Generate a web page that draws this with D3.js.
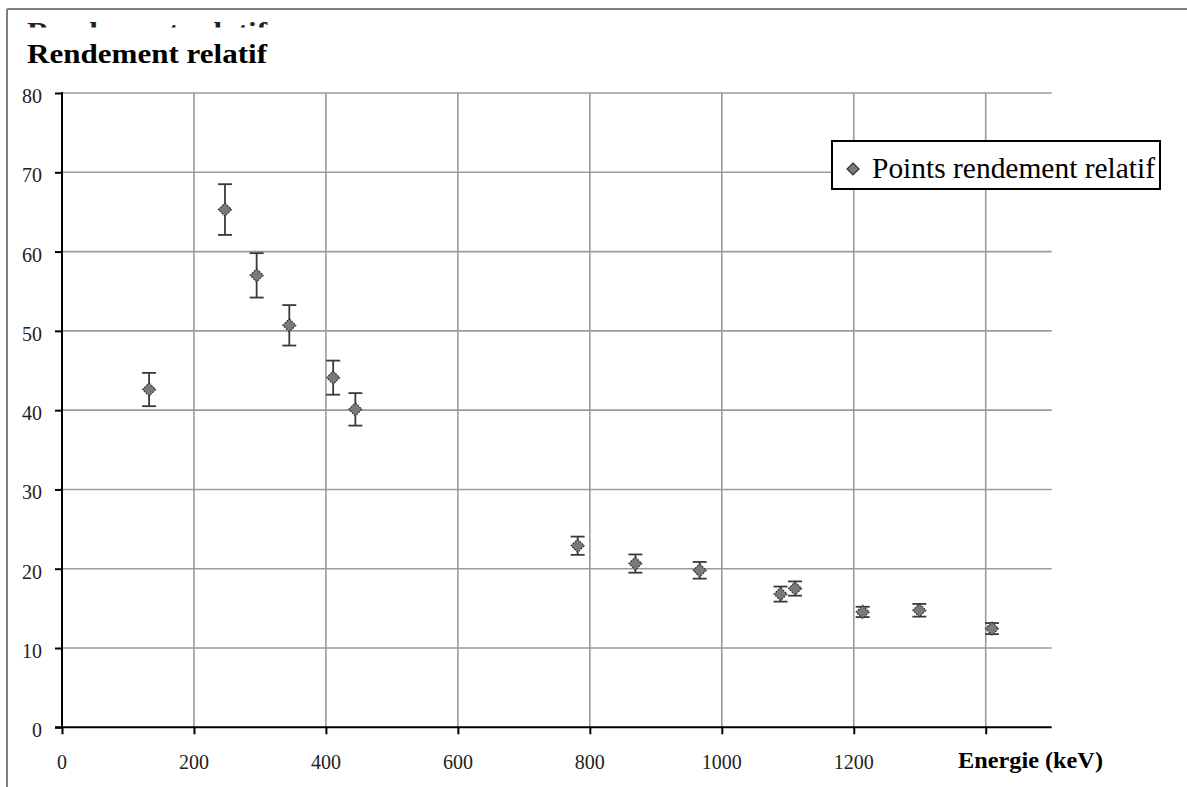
<!DOCTYPE html>
<html>
<head>
<meta charset="utf-8">
<script src="https://cdn.jsdelivr.net/npm/d3@7/dist/d3.min.js"></script>
<style>
  html, body { margin: 0; padding: 0; background: #fff; }
  svg { display: block; }
</style>
</head>
<body>
<svg id="chart" width="1187" height="787"></svg>
<script>
// ---- data ----
const energies = [132, 247, 295, 344.5, 411, 444.6, 781.5, 869, 966.5, 1089, 1111, 1213.5, 1299.4, 1409.5];
const values   = [42.6, 65.3, 57.0, 50.7, 44.1, 40.1, 22.9, 20.65, 19.8, 16.8, 17.5, 14.55, 14.76, 12.45];
const errors   = [2.1, 3.2, 2.8, 2.55, 2.15, 2.05, 1.15, 1.15, 1.05, 0.95, 0.9, 0.65, 0.8, 0.7];
const xTicks = [0, 200, 400, 600, 800, 1000, 1200, 1400];
const xTickLabels = ["0", "200", "400", "600", "800", "1000", "1200", ""];
const yTicks = [0, 10, 20, 30, 40, 50, 60, 70, 80];
const yTickLabels = ["0", "10", "20", "30", "40", "50", "60", "70", "80"];
const titleText = "Rendement relatif";
const xAxisTitle = "Energie (keV)";
const legendLabel = "Points rendement relatif";

const svg = d3.select("#chart");
const x = d3.scaleLinear().domain([0, 1500]).range([62, 1051.7]);
const y = d3.scaleLinear().domain([0, 80]).range([727.3, 93]);

// outer frame (top & left)
svg.append("line").attr("x1", 7).attr("x2", 1187).attr("y1", 9).attr("y2", 9)
  .attr("stroke", "#808080").attr("stroke-width", 2);
svg.append("line").attr("x1", 7).attr("x2", 7).attr("y1", 9).attr("y2", 787)
  .attr("stroke", "#808080").attr("stroke-width", 2);

// clipped ghost of the title at the top (only the tops of tall letters show)
svg.append("clipPath").attr("id", "ghostClip")
  .append("rect").attr("x", 10).attr("y", 22).attr("width", 400).attr("height", 5.5);
svg.append("text").attr("clip-path", "url(#ghostClip)")
  .attr("x", 27).attr("y", 41)
  .attr("font-family", "Liberation Serif, serif").attr("font-weight", "bold")
  .attr("font-size", 27).attr("textLength", 240).attr("lengthAdjust", "spacingAndGlyphs")
  .attr("fill", "#222").text(titleText);

// title
svg.append("text")
  .attr("x", 27).attr("y", 63)
  .attr("font-family", "Liberation Serif, serif").attr("font-weight", "bold")
  .attr("font-size", 27).attr("textLength", 240).attr("lengthAdjust", "spacingAndGlyphs")
  .attr("fill", "#000").text(titleText);

// gridlines
const grid = svg.append("g");
grid.selectAll(".hg").data(yTicks.filter(d => d > 0)).enter().append("line")
  .attr("x1", x(0)).attr("x2", x(1500))
  .attr("y1", d => y(d)).attr("y2", d => y(d))
  .attr("stroke", "#9a9a9a").attr("stroke-width", 1.6);
grid.selectAll(".vg").data(xTicks.filter(d => d > 0)).enter().append("line")
  .attr("x1", d => x(d)).attr("x2", d => x(d))
  .attr("y1", y(0)).attr("y2", y(80))
  .attr("stroke", "#9a9a9a").attr("stroke-width", 1.6);

// axes
const yAxis = d3.axisLeft(y).tickValues(yTicks).tickSize(7).tickPadding(0).tickFormat(() => "");
const xAxis = d3.axisBottom(x).tickValues(xTicks).tickSize(7).tickPadding(0).tickFormat(() => "");
const gy = svg.append("g").attr("transform", `translate(${x(0)},0)`).call(yAxis);
const gx = svg.append("g").attr("transform", `translate(0,${y(0)})`).call(xAxis);
gy.select(".domain").remove();
gx.select(".domain").remove();
[gy, gx].forEach(g => g.selectAll("line").attr("stroke", "#000").attr("stroke-width", 2));
svg.append("line").attr("x1", x(0)).attr("x2", x(0)).attr("y1", y(80) - 1).attr("y2", y(0) + 1)
  .attr("stroke", "#000").attr("stroke-width", 2);
svg.append("line").attr("x1", x(0) - 7).attr("x2", x(1500)).attr("y1", y(0)).attr("y2", y(0))
  .attr("stroke", "#000").attr("stroke-width", 2);

// tick labels
svg.append("g").selectAll("text").data(yTicks).enter().append("text")
  .attr("x", 42).attr("y", d => y(d) + 10)
  .attr("text-anchor", "end")
  .attr("font-family", "Liberation Serif, serif").attr("font-size", 20)
  .attr("fill", "#222").text((d, i) => yTickLabels[i]);
svg.append("g").selectAll("text").data(xTicks).enter().append("text")
  .attr("x", d => x(d)).attr("y", 769)
  .attr("text-anchor", "middle")
  .attr("font-family", "Liberation Serif, serif").attr("font-size", 20)
  .attr("fill", "#222").text((d, i) => xTickLabels[i]);

// x axis title
svg.append("text")
  .attr("x", 958).attr("y", 768)
  .attr("font-family", "Liberation Serif, serif").attr("font-weight", "bold")
  .attr("font-size", 23).attr("textLength", 145).attr("lengthAdjust", "spacingAndGlyphs")
  .attr("fill", "#000").text(xAxisTitle);

// data
const pts = energies.map((e, i) => ({ e, v: values[i], err: errors[i] }));
const eb = svg.append("g");
const capW = 7;
eb.selectAll(".stem").data(pts).enter().append("line")
  .attr("x1", d => x(d.e)).attr("x2", d => x(d.e))
  .attr("y1", d => y(d.v + d.err)).attr("y2", d => y(d.v - d.err))
  .attr("stroke", "#3a3a3a").attr("stroke-width", 1.8);
eb.selectAll(".capT").data(pts).enter().append("line")
  .attr("x1", d => x(d.e) - capW).attr("x2", d => x(d.e) + capW)
  .attr("y1", d => y(d.v + d.err)).attr("y2", d => y(d.v + d.err))
  .attr("stroke", "#3a3a3a").attr("stroke-width", 1.8);
eb.selectAll(".capB").data(pts).enter().append("line")
  .attr("x1", d => x(d.e) - capW).attr("x2", d => x(d.e) + capW)
  .attr("y1", d => y(d.v - d.err)).attr("y2", d => y(d.v - d.err))
  .attr("stroke", "#3a3a3a").attr("stroke-width", 1.8);

function diamondPath(r) { return `M0,${-r}L${r},0L0,${r}L${-r},0Z`; }
svg.append("g").selectAll("path").data(pts).enter().append("path")
  .attr("transform", d => `translate(${x(d.e)},${y(d.v)})`)
  .attr("d", diamondPath(6.5))
  .attr("fill", "#7a7a7a").attr("stroke", "#333").attr("stroke-width", 1.2)
  .attr("stroke-dasharray", "2,1");

// legend
const lg = svg.append("g");
lg.append("rect").attr("x", 832).attr("y", 141).attr("width", 328).attr("height", 48)
  .attr("fill", "#fff").attr("stroke", "#000").attr("stroke-width", 2);
lg.append("path").attr("transform", "translate(853,169)").attr("d", diamondPath(6))
  .attr("fill", "#7a7a7a").attr("stroke", "#333").attr("stroke-width", 1.2);
lg.append("text").attr("x", 872).attr("y", 178)
  .attr("font-family", "Liberation Serif, serif").attr("font-size", 29)
  .attr("textLength", 283).attr("lengthAdjust", "spacingAndGlyphs")
  .attr("fill", "#000").text(legendLabel);
</script>
</body>
</html>
